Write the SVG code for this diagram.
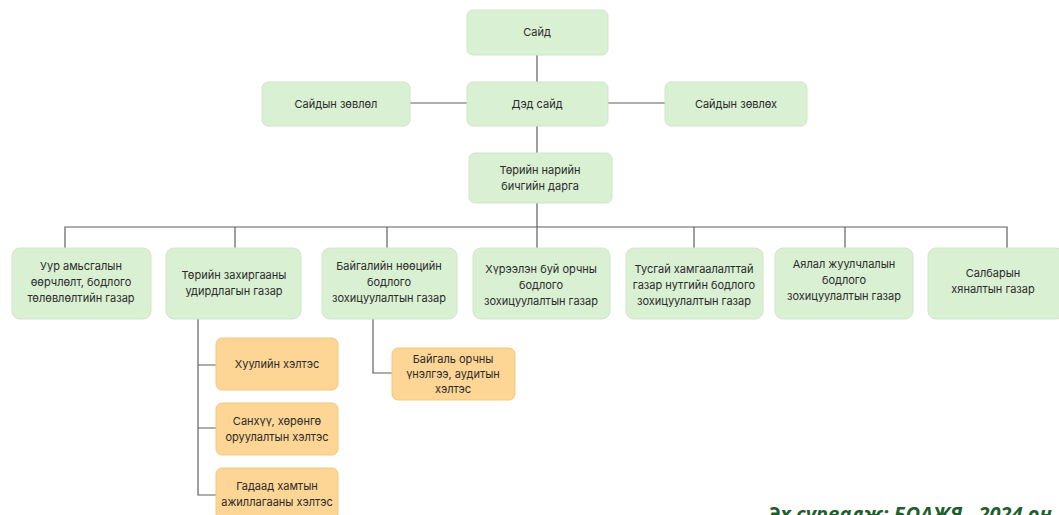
<svg xmlns="http://www.w3.org/2000/svg" width="1059" height="515" viewBox="0 0 1059 515">
<style>
.g{fill:#d9f0d3;stroke:#cfe6c9;stroke-width:1}
.o{fill:#fdd594;stroke:#f3c980;stroke-width:1}
.t{font-family:"Inter","Liberation Sans",sans-serif;font-size:11px;fill:#2b2b2b;text-anchor:middle}
.c{fill:none;stroke:#5f5f5f;stroke-width:1.2}
</style>
<rect width="1059" height="515" fill="#ffffff"/>
<g id="connectors">
<path class="c" d="M537 55V82M410 103H467M608 103H665M537 126V153M537 203V227"/>
<path class="c" d="M65 248V227H1007V248M235 227V248M387 227V248M537 227V248M694 227V248M845 227V248"/>
<path class="c" d="M198 318V495H216M198 365H216M198 428H216"/>
<path class="c" d="M373 318V373H392"/>
</g>
<g id="n-said"><rect class="g" x="467" y="10" width="141" height="45" rx="6"/><text class="t" x="537" y="36">Сайд</text></g>
<g id="n-ded"><rect class="g" x="467" y="82" width="141" height="44" rx="6"/><text class="t" x="537" y="108">Дэд сайд</text></g>
<g id="n-zovlol"><rect class="g" x="262" y="82" width="148" height="44" rx="6"/><text class="t" x="336" y="108">Сайдын зөвлөл</text></g>
<g id="n-zovloh"><rect class="g" x="665" y="82" width="142" height="44" rx="6"/><text class="t" x="736" y="108">Сайдын зөвлөх</text></g>
<g id="n-tnbd"><rect class="g" x="469" y="153" width="143" height="50" rx="6"/><text class="t" x="540" y="174">Төрийн нарийн</text><text class="t" x="540" y="190">бичгийн дарга</text></g>
<g id="n-1"><rect class="g" x="12" y="248" width="139" height="71" rx="8"/><text class="t" x="81" y="270">Уур амьсгалын</text><text class="t" x="81" y="286">өөрчлөлт, бодлого</text><text class="t" x="81" y="302">төлөвлөлтийн газар</text></g>
<g id="n-2"><rect class="g" x="166" y="248" width="135" height="71" rx="8"/><text class="t" x="234" y="279">Төрийн захиргааны</text><text class="t" x="234" y="295">удирдлагын газар</text></g>
<g id="n-3"><rect class="g" x="322" y="248" width="135" height="71" rx="8"/><text class="t" x="389" y="270">Байгалийн нөөцийн</text><text class="t" x="389" y="286">бодлого</text><text class="t" x="389" y="302">зохицуулалтын газар</text></g>
<g id="n-4"><rect class="g" x="473" y="248" width="137" height="71" rx="8"/><text class="t" x="541" y="273">Хүрээлэн буй орчны</text><text class="t" x="541" y="289">бодлого</text><text class="t" x="541" y="305">зохицуулалтын газар</text></g>
<g id="n-5"><rect class="g" x="626" y="248" width="137" height="71" rx="8"/><text class="t" x="694" y="273">Тусгай хамгаалалттай</text><text class="t" x="694" y="289">газар нутгийн бодлого</text><text class="t" x="694" y="305">зохицуулалтын газар</text></g>
<g id="n-6"><rect class="g" x="775" y="248" width="138" height="71" rx="8"/><text class="t" x="844" y="268">Аялал жуулчлалын</text><text class="t" x="844" y="284">бодлого</text><text class="t" x="844" y="300">зохицуулалтын газар</text></g>
<g id="n-7"><rect class="g" x="928" y="248" width="136" height="71" rx="8"/><text class="t" x="993" y="277">Салбарын</text><text class="t" x="993" y="293">хяналтын газар</text></g>
<g id="s-1"><rect class="o" x="216" y="338" width="122" height="52" rx="6"/><text class="t" x="277" y="368">Хуулийн хэлтэс</text></g>
<g id="s-2"><rect class="o" x="216" y="403" width="122" height="52" rx="6"/><text class="t" x="277" y="425">Санхүү, хөрөнгө</text><text class="t" x="277" y="441">оруулалтын хэлтэс</text></g>
<g id="s-3"><rect class="o" x="216" y="468" width="122" height="52" rx="6"/><text class="t" x="277" y="490">Гадаад хамтын</text><text class="t" x="277" y="506">ажиллагааны хэлтэс</text></g>
<g id="s-4"><rect class="o" x="392" y="348" width="123" height="52" rx="6"/><text class="t" x="453" y="363">Байгаль орчны</text><text class="t" x="453" y="378">үнэлгээ, аудитын</text><text class="t" x="453" y="393">хэлтэс</text></g>
<text x="768" y="521" font-family="'Open Sans','Liberation Sans',sans-serif" font-size="20" font-weight="bold" font-style="italic" fill="#1f5f2f">Эх сурвалж: БОАЖЯ , 2024 он</text>
</svg>
